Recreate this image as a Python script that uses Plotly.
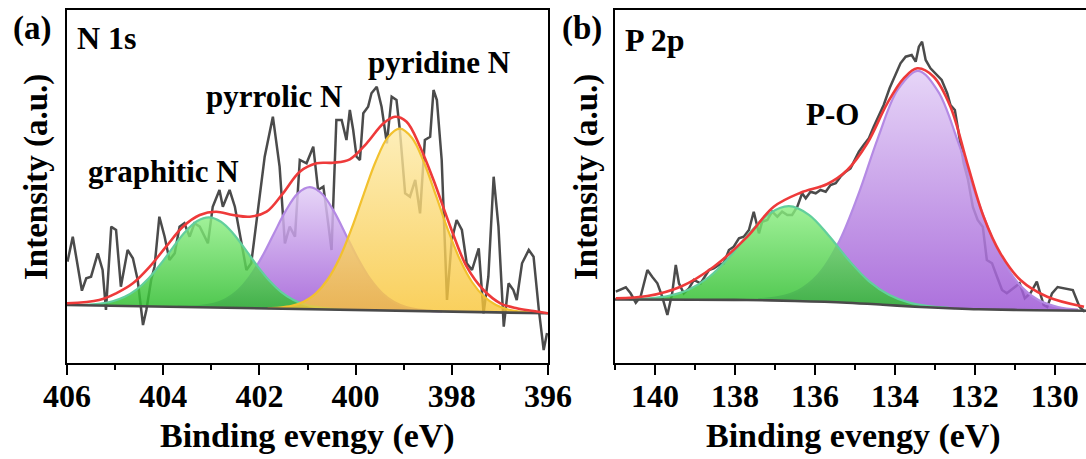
import plotly.graph_objects as go

# ---------------- data: N 1s (panel a) ----------------
n1s_raw_be = [405.99, 405.88, 405.69, 405.60, 405.50, 405.36, 405.26, 405.19, 405.08, 404.98,
              404.88, 404.74, 404.63, 404.53, 404.42, 404.35, 404.25, 404.18, 404.08, 403.97,
              403.87, 403.76, 403.66, 403.56, 403.45, 403.35, 403.24, 403.17, 403.07, 402.97,
              402.83, 402.76, 402.62, 402.51, 402.41, 402.27, 402.17, 402.03, 401.89, 401.72,
              401.58, 401.47, 401.37, 401.26, 401.16, 401.02, 400.88, 400.78, 400.67, 400.57,
              400.50, 400.40, 400.29, 400.19, 400.12, 400.05, 399.98, 399.91, 399.84, 399.74,
              399.67, 399.56, 399.46, 399.35, 399.25, 399.15, 399.08, 398.97, 398.87, 398.76,
              398.66, 398.56, 398.45, 398.38, 398.31, 398.21, 398.10, 398.00, 397.90, 397.79,
              397.69, 397.58, 397.44, 397.34, 397.24, 397.13, 397.03, 396.92, 396.82, 396.72,
              396.65, 396.54, 396.40, 396.30, 396.19, 396.09, 396.02]
n1s_raw_int = [101.3, 126.3, 72.3, 84.7, 86.3, 109.7, 93, 53, 136.3, 133,
               76.3, 113, 104.7, 83, 38, 53, 83, 96.3, 146.3, 126.3,
               103, 109.7, 136.3, 139.7, 126.3, 139.7, 136.3, 129.7, 119.7, 156.3,
               173, 156.3, 173, 156.3, 129.7, 93, 99.7, 153, 206.3, 246.3,
               196.3, 119.7, 136.3, 126.3, 203, 199.7, 216.3, 173, 176.3, 139.7,
               113, 243, 243, 223, 253, 233, 206.3, 203, 249.7, 256.3,
               269.7, 276.3, 256.3, 219.7, 266.3, 263, 233, 169.7, 166.3, 183,
               149.7, 223, 226.3, 273, 263, 203, 63, 123, 143, 133,
               99.7, 93, 114.7, 49.7, 86.3, 186.3, 136.3, 36.3, 79.7, 73,
               63, 99.7, 113, 106.3, 53, 13, 30]

n1s_bg_be = [406.0, 396.0]
n1s_bg_int = [58.0, 49.7]

n1s_graphitic_be = [405.80, 405.55, 405.30, 405.05, 404.80, 404.55, 404.30, 404.05, 403.80, 403.55,
                    403.30, 403.05, 402.80, 402.55, 402.30, 402.05, 401.80, 401.55, 401.30, 401.05,
                    400.80, 400.55, 400.30]
n1s_graphitic_int = [58.1, 58.5, 59.5, 61.8, 66.2, 73.7, 84.8, 99.2, 115.4, 130.7,
                     141.7, 145.6, 141.2, 129.8, 114.1, 97.5, 82.7, 71.2, 63.3, 58.5,
                     55.8, 54.4, 53.6]
n1s_graphitic_bg = [57.83, 53.27]

n1s_pyrrolic_be = [403.70, 403.45, 403.20, 402.95, 402.70, 402.45, 402.20, 401.95, 401.70, 401.45,
                   401.20, 400.95, 400.70, 400.45, 400.20, 399.95, 399.70, 399.45, 399.20, 398.95,
                   398.70, 398.45, 398.20]
n1s_pyrrolic_int = [56.3, 56.4, 57.2, 59.3, 63.9, 72.5, 86.4, 105.9, 129.3, 152.4,
                    169.6, 175.8, 169.2, 151.6, 128.1, 104.3, 84.3, 70.0, 61.0, 56.0,
                    53.4, 52.2, 51.7]
n1s_pyrrolic_bg = [56.09, 51.53]

n1s_pyridine_be = [401.83, 401.58, 401.33, 401.08, 400.83, 400.58, 400.33, 400.08, 399.83, 399.58,
                   399.33, 399.08, 398.83, 398.58, 398.33, 398.08, 397.83, 397.58, 397.33, 397.08,
                   396.83, 396.58, 396.33]
n1s_pyridine_int = [54.9, 55.5, 57.2, 61.3, 69.4, 83.5, 105.3, 134.8, 168.9, 201.7,
                    225.6, 234.3, 225.2, 200.8, 167.6, 133.1, 103.2, 81.0, 66.5, 58.0,
                    53.5, 51.4, 50.4]
n1s_pyridine_bg = [54.54, 49.97]

n1s_env_be = [406.0, 405.33, 404.98, 404.63, 404.28, 403.94, 403.59, 403.24, 402.90, 402.55,
              402.20, 401.85, 401.51, 401.16, 400.81, 400.47, 400.12, 399.77, 399.42, 399.18,
              398.94, 398.66, 398.38, 398.03, 397.69, 397.34, 396.99, 396.65, 396.30, 396.0]
n1s_env_int = [59.7, 63, 69.7, 79.7, 96.3, 116.3, 136.3, 148, 151.3, 148,
               146.3, 151.3, 169.7, 191.3, 199.7, 200.3, 203.7, 219.7, 239.7, 246.3,
               241.3, 216.3, 183, 136.3, 96.3, 73, 59.7, 54.7, 52, 49.7]

# ---------------- data: P 2p (panel b) ----------------
p2p_raw_be = [140.98, 140.86, 140.73, 140.61, 140.48, 140.36, 140.19, 140.07, 139.94, 139.82,
              139.69, 139.57, 139.48, 139.40, 139.28, 139.15, 139.03, 138.86, 138.65, 138.53,
              138.40, 138.28, 138.15, 138.03, 137.90, 137.78, 137.65, 137.53, 137.40, 137.32,
              137.19, 137.07, 136.94, 136.82, 136.69, 136.57, 136.44, 136.32, 136.23, 136.11,
              135.98, 135.86, 135.73, 135.61, 135.48, 135.36, 135.23, 135.11, 135.03, 134.90,
              134.78, 134.65, 134.53, 134.40, 134.28, 134.13, 133.98, 133.86, 133.73, 133.58,
              133.48, 133.40, 133.32, 133.23, 133.11, 132.98, 132.83, 132.69, 132.61, 132.50,
              132.38, 132.28, 132.17, 132.05, 131.93, 131.80, 131.70, 131.57, 131.45, 131.32,
              131.20, 131.03, 130.88, 130.75, 130.61, 130.45, 130.28, 130.19, 130.07, 129.93,
              129.78, 129.55, 129.38, 129.25]
p2p_raw_int = [71.3, 73.7, 75.7, 69.7, 60.3, 66.3, 93, 86.3, 79.7, 66.3,
               48, 69.7, 98, 79.7, 69.7, 74.7, 83, 79.7, 93, 94.7,
               98, 99.7, 113, 116.3, 124.7, 126.3, 133, 151.3, 129.7, 141.3,
               143, 151.3, 146.3, 151.3, 148, 148, 156.3, 169.7, 164.7, 171.3,
               169.7, 173, 171.3, 178, 179.7, 186.3, 191.3, 194.7, 201.3, 211.3,
               218, 224.7, 236.3, 248, 258, 275, 288, 299.7, 306.3, 308,
               301.3, 316.3, 321.3, 303, 294.7, 289.7, 283, 269.7, 258, 253,
               223, 199.7, 183, 156, 143, 136, 103, 99.7, 86.7, 73,
               69.7, 74.7, 79.7, 64.7, 69.7, 81.3, 58, 56, 69.7, 76,
               74.7, 73, 56, 51.3]

p2p_bg_be = [141.0, 139.0, 137.7, 136.5, 135.2, 134.3, 133.5, 132.5, 131.9, 130.5, 129.2]
p2p_bg_int = [63.5, 63.3, 63.0, 62.0, 60.3, 58.3, 56.3, 54.5, 53.7, 52.8, 52.3]

p2p_po_be = [140.65, 140.15, 139.65, 139.15, 138.65, 138.15, 137.65, 137.15, 136.65, 136.15,
             135.65, 135.15, 134.65, 134.15, 133.65, 133.15, 132.65]
p2p_po_int = [63.8, 64.6, 67.2, 73.5, 86.0, 105.6, 129.3, 149.2, 156.8, 148.2,
              127.2, 102.7, 81.9, 68.2, 60.5, 56.9, 55.1]
p2p_po_bg_be = [140.65, 139.0, 137.7, 136.5, 135.2, 134.3, 133.5, 132.65]
p2p_po_bg_int = [63.45, 63.3, 63.0, 62.0, 60.3, 58.3, 56.3, 54.8]

p2p_main_be = [137.42, 136.92, 136.42, 135.92, 135.42, 134.92, 134.42, 133.92, 133.42, 132.92,
               132.42, 131.92, 131.42, 130.92, 130.42, 129.92, 129.42]
p2p_main_int = [63.7, 65.8, 72.3, 88.2, 119.4, 167.8, 225.4, 273.8, 292.2, 271.7,
                221.2, 161.8, 112.2, 80.0, 63.2, 56.0, 53.3]
p2p_main_bg_be = [137.42, 136.5, 135.2, 134.3, 133.5, 132.5, 131.9, 130.5, 129.42]
p2p_main_bg_int = [62.8, 62.0, 60.3, 58.3, 56.3, 54.5, 53.7, 52.8, 52.4]

p2p_env_be = [140.98, 140.19, 139.36, 138.53, 137.69, 137.03, 136.36, 135.69, 135.19, 134.69,
              134.19, 133.78, 133.44, 133.03, 132.61, 132.19, 131.78, 131.36, 130.86, 130.19, 129.27]
p2p_env_int = [64.7, 67, 76.3, 96.3, 126.3, 156.3, 170.3, 179, 193, 219.7,
               259.7, 284.7, 294.7, 286.3, 256.3, 199.7, 146.3, 109.7, 83, 66.3, 56.3]

x_ticks_a = [406, 404, 402, 400, 398, 396]
x_ticks_b = [140, 138, 136, 134, 132, 130]

# ---------------- styles ----------------
FONT = "Liberation Serif, Times New Roman, serif"
RAW = "#4b4b4b"
RED = "#ee3a3a"
BASE = "#4a4a4a"
GREEN = dict(edge="#62cf9c", bottom="rgba(44,188,44,0.84)", top="rgba(140,238,130,0.82)")
PURPLE = dict(edge="#b48ae4", bottom="rgba(158,88,214,0.85)", top="rgba(226,206,246,0.85)")
YELLOW = dict(edge="#f2c12e", bottom="rgba(248,196,52,0.80)", top="rgba(253,234,168,0.80)")

W, H = 1086, 459
def fx(p):
    return p / W
def fy(p):
    return 1 - p / H

fig = go.Figure()

def add_component(be, val, bg_be, bg_val, sty, xa, ya):
    fig.add_trace(go.Scatter(x=bg_be, y=bg_val, mode="lines", line=dict(width=0, color="rgba(0,0,0,0)"),
                             showlegend=False, hoverinfo="skip", xaxis=xa, yaxis=ya))
    fig.add_trace(go.Scatter(x=be, y=val, mode="lines", fill="tonexty",
                             line=dict(color=sty["edge"], width=2.2, shape="spline"),
                             fillgradient=dict(type="vertical",
                                               colorscale=[[0, sty["bottom"]], [1, sty["top"]]],
                                               start=min(bg_val), stop=max(val)),
                             showlegend=False, xaxis=xa, yaxis=ya))

# panel a
fig.add_trace(go.Scatter(x=n1s_raw_be, y=n1s_raw_int, mode="lines", line=dict(color=RAW, width=2.5),
                         showlegend=False, xaxis="x", yaxis="y"))
add_component(n1s_pyrrolic_be, n1s_pyrrolic_int, [n1s_pyrrolic_be[0], n1s_pyrrolic_be[-1]], n1s_pyrrolic_bg, PURPLE, "x", "y")
add_component(n1s_graphitic_be, n1s_graphitic_int, [n1s_graphitic_be[0], n1s_graphitic_be[-1]], n1s_graphitic_bg, GREEN, "x", "y")
add_component(n1s_pyridine_be, n1s_pyridine_int, [n1s_pyridine_be[0], n1s_pyridine_be[-1]], n1s_pyridine_bg, YELLOW, "x", "y")
fig.add_trace(go.Scatter(x=n1s_bg_be, y=n1s_bg_int, mode="lines", line=dict(color=BASE, width=2.6),
                         showlegend=False, xaxis="x", yaxis="y"))
fig.add_trace(go.Scatter(x=n1s_env_be, y=n1s_env_int, mode="lines", line=dict(color=RED, width=2.6, shape="spline"),
                         showlegend=False, xaxis="x", yaxis="y"))

# panel b
fig.add_trace(go.Scatter(x=p2p_raw_be, y=p2p_raw_int, mode="lines", line=dict(color=RAW, width=2.5),
                         showlegend=False, xaxis="x2", yaxis="y2"))
add_component(p2p_main_be, p2p_main_int, p2p_main_bg_be, p2p_main_bg_int, PURPLE, "x2", "y2")
add_component(p2p_po_be, p2p_po_int, p2p_po_bg_be, p2p_po_bg_int, GREEN, "x2", "y2")
fig.add_trace(go.Scatter(x=p2p_bg_be, y=p2p_bg_int, mode="lines", line=dict(color=BASE, width=2.6, shape="spline"),
                         showlegend=False, xaxis="x2", yaxis="y2"))
fig.add_trace(go.Scatter(x=p2p_env_be, y=p2p_env_int, mode="lines", line=dict(color=RED, width=2.6, shape="spline"),
                         showlegend=False, xaxis="x2", yaxis="y2"))

tickfont = dict(family=FONT, size=32, color="black", weight="bold")
xcommon = dict(showline=True, linecolor="black", linewidth=2, mirror=True, ticks="outside",
               ticklen=10, tickwidth=2, tickcolor="black", tickfont=tickfont, showgrid=False,
               zeroline=False, ticklabelstandoff=-6, automargin=False,
               minor=dict(dtick=1, ticks="outside", ticklen=5, tickwidth=2, tickcolor="black", showgrid=False))
ycommon = dict(showline=True, linecolor="black", linewidth=2, ticks="", showticklabels=False,
               showgrid=False, zeroline=False, range=[0, 353], automargin=False)

fig.update_layout(
    template="none",
    width=W, height=H, margin=dict(l=0, r=0, t=0, b=0, autoexpand=False),
    paper_bgcolor="white", plot_bgcolor="white",
    xaxis=dict(domain=[fx(67), fx(548)], range=[406, 396], tickvals=x_ticks_a, anchor="y", **xcommon),
    yaxis=dict(domain=[fy(363), fy(10)], anchor="x", mirror=True, **ycommon),
    xaxis2=dict(domain=[fx(615), 1.0], range=[141, 129.22], tickvals=x_ticks_b, anchor="y2", **xcommon),
    yaxis2=dict(domain=[fy(363), fy(10)], anchor="x2", mirror=False, **ycommon),
)

def txt(text, x, y, size=32, xanchor="center", angle=0, color="black"):
    fig.add_annotation(text=text, x=fx(x), y=fy(y), xref="paper", yref="paper",
                       xanchor=xanchor, yanchor="middle", showarrow=False, textangle=angle,
                       font=dict(family=FONT, size=size, color=color, weight="bold"))

txt("(a)", 32, 28, size=33)
txt("(b)", 582, 28, size=33)
txt("N 1s", 75, 38, xanchor="left")
txt("P 2p", 623, 40, xanchor="left")
txt("graphitic N", 86, 171, size=31, xanchor="left")
txt("pyrrolic N", 204, 96, size=31, xanchor="left")
txt("pyridine N", 366, 63, size=31, xanchor="left")
txt("P-O", 804, 114, size=31, xanchor="left")
txt("Intensity (a.u.)", 37, 177, size=33, angle=-90)
txt("Intensity (a.u.)", 587, 177, size=33, angle=-90)
txt("Binding evengy (eV)", 307, 436, size=34)
txt("Binding evengy (eV)", 853, 436, size=34)

fig.write_html("out.html")
